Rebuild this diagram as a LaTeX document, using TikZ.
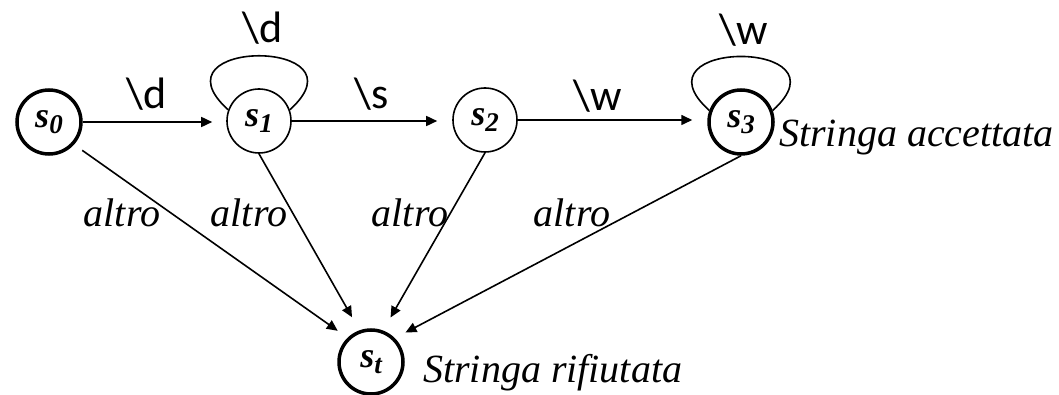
\documentclass[tikz,border=0pt]{standalone}
\usepackage{fontspec}
\setmainfont{Liberation Serif}
\newfontfamily\labfont{Carlito}
\usetikzlibrary{arrows.meta}
\newcommand{\stlab}[2]{s\raisebox{-0.18em}{\fontsize{27}{27}\selectfont #2}}
\tikzset{
  state/.style={circle, draw, line width=1.6pt, minimum size=64pt, inner sep=0pt,
    font=\fontsize{36}{36}\selectfont\bfseries\itshape},
  final/.style={state, line width=3.5pt},
  edge/.style={line width=1.6pt, -{Triangle[length=11pt,width=10pt]}},
  loopline/.style={line width=1.6pt},
  sym/.style={anchor=base, inner sep=0pt, font=\labfont\fontsize{44}{44}\selectfont},
  ital/.style={anchor=base, inner sep=0pt, font=\fontsize{40}{40}\selectfont\itshape},
}
\begin{document}
\begin{tikzpicture}[x=1pt,y=-1pt]
\useasboundingbox (0,0) rectangle (1059,395);
\node[final] (s0) at (49,122) {\stlab{s}{0}};
\node[state] (s1) at (259,121) {\stlab{s}{1}};
\node[state] (s2) at (485,120) {\stlab{s}{2}};
\node[final] (s3) at (741,122) {\stlab{s}{3}};
\node[final] (st) at (371,362) {\stlab{s}{t}};

\draw[edge, shorten >=14pt] (s0.east) -- (s1.west |- s0.east);
\draw[edge, shorten >=15pt] (s1.east) -- (s2.west |- s1.east);
\draw[edge, shorten >=15pt] (s2.east) -- (s3.west |- s2.east);

\draw[loopline] (s1.160) .. controls +(-80,-72) and +(80,-72) .. (s1.20);
\draw[loopline] (s3.160) .. controls +(-80,-72) and +(80,-72) .. (s3.20);

\draw[edge, shorten <=10pt, shorten >=12pt] (s0.-42) -- (st.134);
\draw[edge, shorten >=15pt] (s1.south) -- (st.110);
\draw[edge, shorten >=15pt] (s2.south) -- (st.69);
\draw[edge, shorten >=12pt] (s3.south) -- (st.45);

\node[sym] (l01) at (147,109) {\textbackslash d};
\node[sym] (l12) at (372,109) {\textbackslash s};
\node[sym] (l23) at (598,111) {\textbackslash w};
\node[sym] (l11) at (263,43) {\textbackslash d};
\node[sym] (l33) at (744,45) {\textbackslash w};

\node[ital] (a0) at (122,226) {altro};
\node[ital] (a1) at (249,226) {altro};
\node[ital] (a2) at (410,226) {altro};
\node[ital] (a3) at (572,226) {altro};

\node[ital, anchor=base west] (acc) at (779,147) {Stringa accettata};
\node[ital, anchor=base west] (rif) at (423,382) {Stringa rifiutata};
\end{tikzpicture}
\end{document}
